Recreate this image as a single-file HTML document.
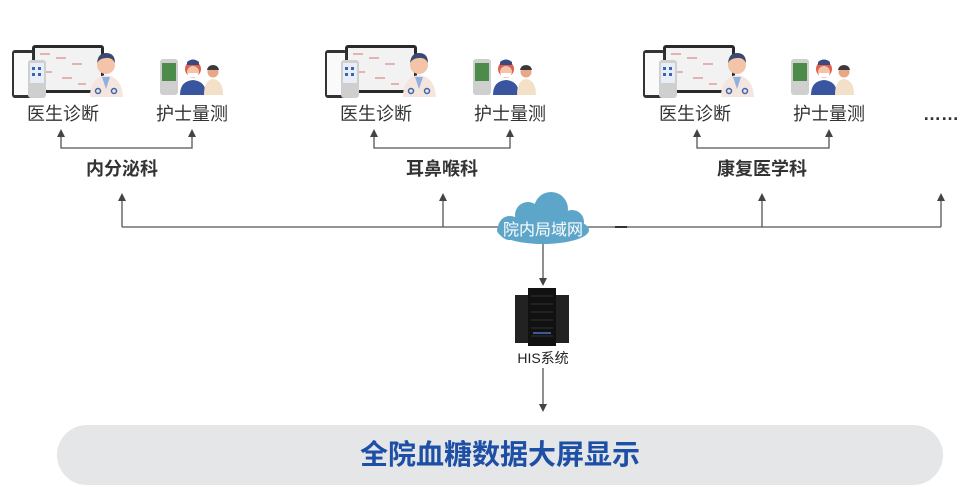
<!DOCTYPE html>
<html><head><meta charset="utf-8"><style>
html,body{margin:0;padding:0;background:#fff;}
body{width:967px;height:487px;overflow:hidden;position:relative;font-family:"Liberation Sans","Noto Sans CJK SC",sans-serif;}
</style></head><body>
<svg width="967" height="487" viewBox="0 0 967 487" xmlns="http://www.w3.org/2000/svg" style="position:absolute;left:0;top:0">
<defs>
<g id="doc">
  <rect x="20" y="0" width="72" height="48" rx="3" fill="#2a2a2a"/>
  <rect x="23" y="3" width="66" height="42" fill="#f2f2f2"/>
  <g fill="#d88" opacity="0.6"><rect x="28" y="8" width="10" height="2"/><rect x="44" y="12" width="10" height="2"/><rect x="60" y="18" width="10" height="2"/><rect x="30" y="26" width="10" height="2"/><rect x="50" y="32" width="10" height="2"/><rect x="66" y="38" width="8" height="2"/></g>
  <rect x="0" y="5" width="22" height="48" rx="3" fill="#333"/>
  <rect x="2" y="8" width="18" height="42" fill="#fafafa"/>
  <rect x="16" y="15" width="18" height="38" rx="3" fill="#cfcfcf"/>
  <rect x="18" y="18" width="14" height="20" fill="#e8eef8"/>
  <g fill="#3a63b0"><rect x="20" y="22" width="3" height="3"/><rect x="26" y="22" width="3" height="3"/><rect x="20" y="28" width="3" height="3"/><rect x="26" y="28" width="3" height="3"/></g>
  <circle cx="94" cy="20" r="9" fill="#f3c4a8"/>
  <path d="M85,18 Q86,8 94,8 Q103,8 103,18 Q100,12 94,13 Q88,13 85,18z" fill="#3a4a70"/>
  <path d="M78,52 Q78,32 94,30 Q110,32 111,52z" fill="#f4e6df"/>
  <path d="M90,32 L94,44 L98,32z" fill="#8fb0e0"/>
  <circle cx="86" cy="46" r="2.5" fill="none" stroke="#3a63b0" stroke-width="1.5"/>
  <circle cx="102" cy="46" r="2.5" fill="none" stroke="#3a63b0" stroke-width="1.5"/>
</g>
<g id="nur">
  <rect x="0" y="4" width="18" height="36" rx="3" fill="#cfcfcf"/>
  <rect x="2" y="8" width="14" height="18" fill="#4d8b4a"/>
  <circle cx="33" cy="14" r="8" fill="#e06050"/>
  <circle cx="33" cy="17" r="6" fill="#f3c4a8"/>
  <rect x="28" y="18" width="10" height="4" fill="#fff"/>
  <path d="M27,7 Q33,2 39,7 L39,10 L27,10z" fill="#3a4a80"/>
  <path d="M20,40 Q20,26 33,25 Q46,26 46,40z" fill="#3a55a0"/>
  <circle cx="53" cy="17" r="5.5" fill="#e8a888"/>
  <path d="M47,15 Q48,10 53,10 Q58,10 59,15z" fill="#3a3a3a"/>
  <path d="M44,40 Q44,25 53,24 Q63,25 63,40z" fill="#f3e0c8"/>
</g>
</defs>

<use href="#doc" x="12" y="45"/>
<use href="#nur" x="160" y="55"/>
<use href="#doc" x="325" y="45"/>
<use href="#nur" x="473" y="55"/>
<use href="#doc" x="643" y="45"/>
<use href="#nur" x="791" y="55"/>

<g font-size="18" fill="#333" text-anchor="middle">
<text x="63" y="120">医生诊断</text><text x="192" y="120">护士量测</text>
<text x="376" y="120">医生诊断</text><text x="510" y="120">护士量测</text>
<text x="695" y="120">医生诊断</text><text x="829" y="120">护士量测</text>
<text x="941" y="120" font-weight="bold">……</text>
</g>
<g font-size="18" fill="#333" text-anchor="middle" font-weight="bold">
<text x="122" y="175">内分泌科</text>
<text x="442" y="175">耳鼻喉科</text>
<text x="762" y="175">康复医学科</text>
</g>

<g stroke="#555" stroke-width="1.3" fill="none">
<path d="M61,133 V148 H192 V133" />
<path d="M374,133 V148 H510 V133" />
<path d="M697,133 V148 H829 V133" />
<path d="M122,227 H941"/>
<path d="M122,227 V197"/><path d="M443,227 V197"/><path d="M762,227 V197"/><path d="M941,227 V197"/>
<path d="M543,244 V280"/><path d="M543,368 V406"/>
</g>
<g fill="#444">
<path d="M57,137 L61,129 L65,137z"/><path d="M188,137 L192,129 L196,137z"/>
<path d="M370,137 L374,129 L378,137z"/><path d="M506,137 L510,129 L514,137z"/>
<path d="M693,137 L697,129 L701,137z"/><path d="M825,137 L829,129 L833,137z"/>
<path d="M118,201 L122,193 L126,201z"/><path d="M439,201 L443,193 L447,201z"/>
<path d="M758,201 L762,193 L766,201z"/><path d="M937,201 L941,193 L945,201z"/>
<path d="M539,278 L543,286 L547,278z"/><path d="M539,404 L543,412 L547,404z"/>
</g>
<rect x="615" y="226" width="12" height="2" fill="#333"/>

<g fill="#5ea6c9">
<ellipse cx="543" cy="230" rx="46" ry="14"/>
<circle cx="528" cy="215" r="13"/>
<circle cx="551" cy="209" r="17"/>
<circle cx="572" cy="222" r="12"/>
<circle cx="510" cy="228" r="12"/>
</g>
<text x="543" y="235" font-size="16" fill="#fff" text-anchor="middle">院内局域网</text>

<rect x="515" y="295" width="14" height="48" fill="#222"/>
<rect x="555" y="295" width="14" height="48" fill="#222"/>
<rect x="528" y="288" width="28" height="58" fill="#111"/>
<g stroke="#555" stroke-width="0.6"><path d="M531,296H553M531,304H553M531,312H553M531,320H553M531,328H553M531,336H553"/></g>
<rect x="533" y="332" width="18" height="2" fill="#3a5a9a"/>
<text x="543" y="363" font-size="14" fill="#222" text-anchor="middle">HIS系统</text>

<rect x="57" y="425" width="886" height="60" rx="30" fill="#e5e6e8"/>
<text x="500" y="464" font-size="28" font-weight="bold" fill="#1c4fa5" text-anchor="middle">全院血糖数据大屏显示</text>
</svg>
</body></html>
